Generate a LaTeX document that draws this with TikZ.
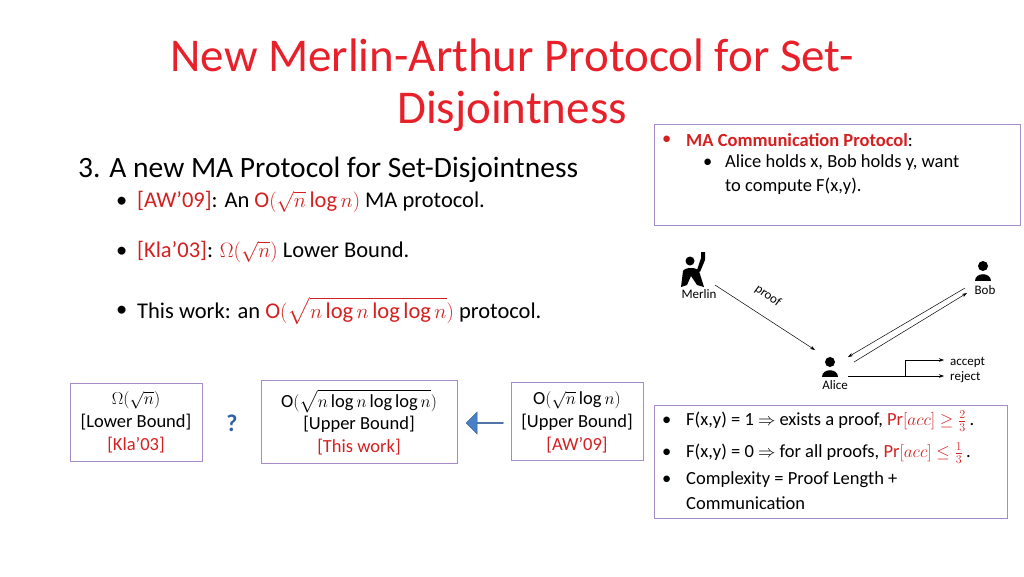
\documentclass[tikz,border=0pt]{standalone}
\usepackage{fontspec}
\setmainfont{Carlito}
\usepackage{amsmath,amssymb}
\usetikzlibrary{arrows.meta,shapes.arrows}
\definecolor{tred}{HTML}{E8202A}
\definecolor{mred}{HTML}{D42020}
\definecolor{pbox}{HTML}{A58BC8}
\definecolor{qblue}{HTML}{2E5FA8}
\definecolor{ablue}{HTML}{4A7FC8}
\begin{document}
\begin{tikzpicture}[x=1pt,y=-1pt,
  t/.style={anchor=west,inner sep=0pt},
  bx/.style={draw=pbox,line width=0.9pt},
  ar/.style={-{Stealth[length=5pt,width=3.5pt]},line width=0.5pt},
  who/.style={font=\fontsize{13}{14}\selectfont,inner sep=0pt}]
\useasboundingbox (0,0) rectangle (1024,576);
\fill[white] (0,0) rectangle (1024,576);
% title
\node[text=tred,font=\fontsize{47}{52}\selectfont,align=center] (title) at (512,85) {New Merlin-Arthur Protocol for Set-\\Disjointness};
% left text
\node[t,font=\fontsize{29.5}{34}\selectfont] (h) at (78,170) {3. A new MA Protocol for Set-Disjointness};
\begin{scope}[every node/.style={t,font=\fontsize{22.5}{26}\selectfont}]
\node (d1) at (116,202) {•};
\node (b1) at (137,202) {\textcolor{mred}{[AW’09]}: An \textcolor{mred}{$\mathrm{O}(\sqrt{n}\log n)$} MA protocol.};
\node (d2) at (116,252) {•};
\node (b2) at (137,252) {\textcolor{mred}{[Kla’03]}: \textcolor{mred}{$\Omega(\sqrt{n})$} Lower Bound.};
\node (d3) at (116,311) {•};
\node (b3) at (137,311) {This work: an \textcolor{mred}{$\mathrm{O}(\sqrt{n\log n\log\log n})$} protocol.};
\end{scope}
% MA box
\draw[bx] (654,124) rectangle (1020,225);
\begin{scope}[every node/.style={t,font=\fontsize{18.5}{21}\selectfont}]
\node[text=mred] (md1) at (662,140) {•};
\node (m1) at (686,140) {\textcolor{mred}{\textbf{MA Communication Protocol}}:};
\node (md2) at (703,163) {•};
\node (m2) at (725,163) {Alice holds x, Bob holds y, want};
\node (m3) at (725,186) {to compute F(x,y).};
\end{scope}
% diagram
\node[who] (merlin) at (699,294) {Merlin};
\node[who] (bob) at (985,290) {Bob};
\node[who] (alice) at (835,385) {Alice};
% icons
\fill (690,261) circle (4.5);
\fill (681,287) -- (683,271) .. controls (685,267) and (697,267) .. (699,271) -- (704,287) -- (697,285) -- (691,276) -- (687,285) -- cycle;
\fill (697,270) -- (701,258) -- (701,252) -- (705,252) -- (705,260) -- (700,272) -- cycle;
\fill (983,266) circle (5);
\fill (975,281) .. controls (975,272) and (991,272) .. (991,281) -- cycle;
\fill (830,362) circle (5);
\fill (822,377) .. controls (822,368) and (838,368) .. (838,377) -- cycle;
\coordinate (mo) at (715,285);
\coordinate (ai) at (815,350);
\draw[ar] (mo) -- (ai);
\node[font=\fontsize{13}{14}\selectfont,rotate=-36,inner sep=0pt] (proof) at (768,296) {proof};
\coordinate (bo1) at (965,288); \coordinate (ai1) at (848,357);
\coordinate (ao1) at (854,362); \coordinate (bi1) at (967,293);
\draw[ar] (bo1) -- (ai1);
\draw[ar] (ao1) -- (bi1);
\coordinate (aout) at (848,376);
\coordinate (br) at (905,376);
\node[t,font=\fontsize{13}{14}\selectfont] (acc) at (950,362) {accept};
\node[t,font=\fontsize{13}{14}\selectfont] (rej) at (950,377) {reject};
\draw[ar] (aout) -- (944,376);
\draw[ar] (br) -- (905,360) -- (944,360);
% bottom boxes
\draw[bx] (70,383) rectangle (202,461);
\begin{scope}[every node/.style={font=\fontsize{18.5}{21}\selectfont,inner sep=0pt}]
\node (l1) at (136,400) {$\Omega(\sqrt{n})$};
\node (l2) at (136,422) {[Lower Bound]};
\node[text=mred] (l3) at (136,445) {[Kla’03]};
\node (u1) at (359,401) {$\mathrm{O}(\sqrt{n\log n\log\log n})$};
\node (u2) at (359,424) {[Upper Bound]};
\node[text=mred] (u3) at (359,447) {[This work]};
\node (a1) at (577,400) {$\mathrm{O}(\sqrt{n}\log n)$};
\node (a2) at (577,422) {[Upper Bound]};
\node[text=mred] (a3) at (577,445) {[AW’09]};
\end{scope}
\draw[bx] (261,380) rectangle (457,463);
\draw[bx] (511,382) rectangle (643,460);
\node[text=qblue,font=\bfseries\fontsize{24}{26}\selectfont] (q) at (232,423) {?};
\node[single arrow,fill=ablue,draw=ablue!70!black,shape border rotate=180,minimum width=22pt,single arrow head extend=3pt,minimum height=37pt,inner sep=0pt] (barrow) at (485,423) {};
% bottom right box
\draw[bx] (654,405) rectangle (1007,518);
\begin{scope}[every node/.style={t,font=\fontsize{18.5}{21}\selectfont}]
\node (cd1) at (662,421) {•};
\node (c1) at (686,421) {F(x,y) = 1 $\Rightarrow$ exists a proof, \textcolor{mred}{$\mathrm{Pr}[acc]\geq\frac{2}{3}$}\,.};
\node (cd2) at (662,453) {•};
\node (c2) at (686,453) {F(x,y) = 0 $\Rightarrow$ for all proofs, \textcolor{mred}{$\mathrm{Pr}[acc]\leq\frac{1}{3}$}\,.};
\node (cd3) at (662,480) {•};
\node (c3) at (686,480) {Complexity = Proof Length +};
\node (c4) at (686,503) {Communication};
\end{scope}
\end{tikzpicture}
\end{document}
